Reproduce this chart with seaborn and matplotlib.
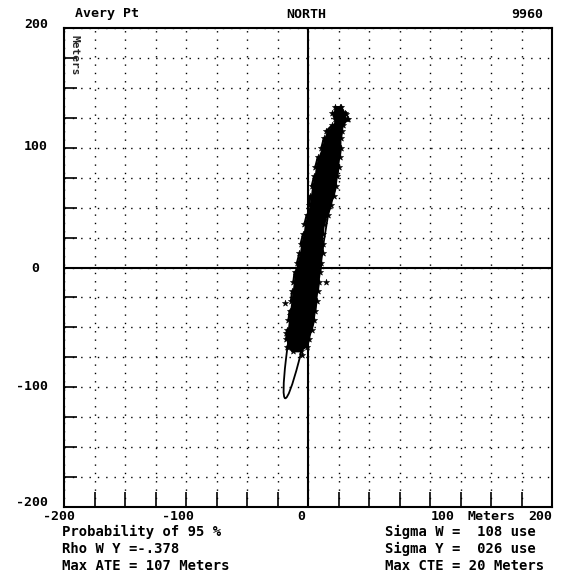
import matplotlib
matplotlib.use("Agg")
import matplotlib.pyplot as plt
from matplotlib.patches import Ellipse
import pandas as pd
import seaborn as sns

sns.set_theme(style="white")
plt.rcParams["font.family"] = ["DejaVu Sans Mono", "DejaVu Sans"]

# Fix cloud: for each northing (m), the westmost and eastmost fix (m)
band_north = [134, 129, 124, 119, 114, 108, 100, 92, 84, 76, 68, 60, 52, 44,
              36, 28, 20, 12, 4, -4, -12, -20, -28, -36, -44, -52, -60, -66, -70]
band_west = [22, 20, 22, 20, 15, 13, 11, 8, 6, 5, 3, 2, 1, -1,
             -3, -4, -6, -7, -9, -11, -12, -13, -14, -15, -16, -17, -18, -17, -12]
band_east = [27, 30, 32, 29, 28, 27, 27, 26, 25, 24, 23, 21, 19, 16,
             13, 12, 12, 12, 11, 10, 9, 8, 7, 6, 5, 3, 1, -1, -6]

# Stray fixes just outside the main cloud
stray_east = [-12, -18, -5, 31, 26, 15, 13, -15, 33, 19, -19]
stray_north = [-68, -55, -73, 128, 134, -12, 40, -40, 124, 60, -30]

# 95 % probability ellipse
ell_center = (1, -3)
ell_semi_major = 108
ell_semi_minor = 7.5
ell_angle = 79.5

grid_ticks = list(range(-200, 201, 25))

W, H = 570, 584
fig = plt.figure(figsize=(W / 100, H / 100), dpi=100)
fig.patch.set_facecolor("white")
ax = fig.add_axes([64 / W, 1 - 507 / H, 488 / W, 479 / H])
ax.set_facecolor("white")

# track through the fixes, zig-zagging across the cloud
zig_e, zig_n = [], []
for i, (n, w, e) in enumerate(zip(band_north, band_west, band_east)):
    if i % 2 == 0:
        zig_e += [w, e]
    else:
        zig_e += [e, w]
    zig_n += [n, n]
track = pd.DataFrame({"east": zig_e, "north": zig_n})

ax.fill_betweenx(band_north, band_west, band_east, color="black", lw=0, zorder=3)
sns.lineplot(data=track, x="east", y="north", sort=False, estimator=None,
             color="black", lw=1.5, ax=ax, zorder=4)
sns.scatterplot(data=track, x="east", y="north", marker="*", s=22,
                color="black", edgecolor="black", ax=ax, zorder=4)
sns.scatterplot(x=stray_east, y=stray_north, marker="*", s=22,
                color="black", edgecolor="black", ax=ax, zorder=4)

ax.add_patch(Ellipse(ell_center, 2 * ell_semi_major, 2 * ell_semi_minor,
                     angle=ell_angle, fill=False, ec="black", lw=1.3, zorder=5))

ax.set_xlim(-200, 200)
ax.set_ylim(-200, 200)
ax.set_xticks(grid_ticks)
ax.set_yticks(grid_ticks)
ax.set_xticklabels([])
ax.set_yticklabels([])
ax.set_xlabel("")
ax.set_ylabel("")
ax.grid(True, color="black", linestyle=(0, (1, 5)), linewidth=1.0)
ax.tick_params(axis="x", direction="in", length=11, width=1.2, color="black", bottom=True)
ax.tick_params(axis="y", direction="in", length=9, width=1.2, color="black", left=True)
ax.axhline(0, color="black", lw=1.5, zorder=2)
ax.axvline(0, color="black", lw=1.5, zorder=2)
for s in ax.spines.values():
    s.set_color("black")
    s.set_linewidth(1.5)

ax.text(0.012, 0.985, "Meters", transform=ax.transAxes, rotation=-90,
        ha="left", va="top", fontsize=8, fontweight="bold")


def put(px, py, s, ha="left", size=9.5):
    fig.text(px / W, 1 - py / H, s, ha=ha, va="center", fontsize=size,
             fontweight="bold", color="black")


# header
put(75, 14, "Avery Pt")
put(306, 14, "NORTH", ha="center")
put(543, 14, "9960", ha="right")

# northing labels
put(48, 25, "200", ha="right")
put(48, 147, "100", ha="right")
put(35, 268, "0", ha="center")
put(48, 387, "-100", ha="right")
put(48, 502, "-200", ha="right")

# easting labels
put(59, 517, "-200", ha="center")
put(178, 517, "-100", ha="center")
put(301, 517, "0", ha="center")
put(443, 517, "100", ha="center")
put(467, 517, "Meters")
put(540, 517, "200", ha="center")

# statistics
put(62, 532, "Probability of 95 %", size=10)
put(62, 549, "Rho W Y =-.378", size=10)
put(62, 566, "Max ATE = 107 Meters", size=10)
put(385, 532, "Sigma W =  108 use", size=10)
put(385, 549, "Sigma Y =  026 use", size=10)
put(385, 566, "Max CTE = 20 Meters", size=10)

fig.savefig("out.png", dpi=100, facecolor="white")
